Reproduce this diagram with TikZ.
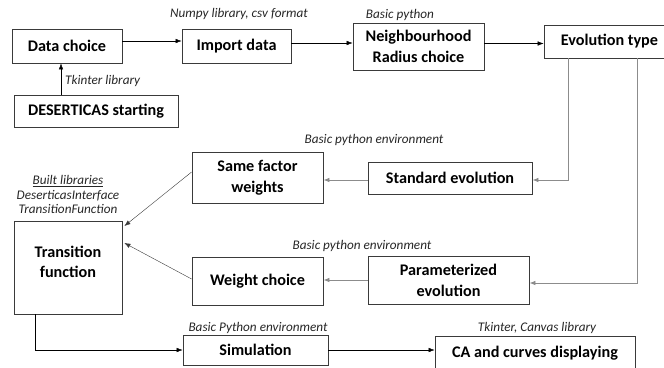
\documentclass[tikz,border=0pt]{standalone}
\usepackage{fontspec}
\setmainfont{Carlito}
\usetikzlibrary{arrows.meta}
\definecolor{frame}{HTML}{3A3A3A}
\definecolor{wire}{HTML}{8C8C8C}
\definecolor{note}{HTML}{262626}

\begin{document}
\begin{tikzpicture}[x=1pt,y=-1pt,>={Latex[length=6pt,width=4.5pt]},
  box/.style={draw=frame,line width=0.8pt,align=center,inner sep=0pt,font=\fontsize{16.2}{21}\selectfont\bfseries},
  lib/.style={text=note,inner sep=0pt,align=center,font=\fontsize{13.2}{14.8}\selectfont\itshape}]
  \useasboundingbox (0,0) rectangle (664,367);
  \clip (0,0) rectangle (664,367);
  % top row: getting the data in
  \node[box,minimum width=110pt,minimum height=34pt] (datachoice) at (67,46) {Data choice};
  \node[box,minimum width=109pt,minimum height=34pt] (importdata) at (236.5,46) {Import data};
  \node[box,minimum width=131pt,minimum height=47pt] (neighbourhood) at (418.5,46.5) {Neighbourhood\\Radius choice};
  \node[box,minimum width=131pt,minimum height=33pt] (evotype) at (609.5,41.5) {Evolution type};
  \node[box,minimum width=164pt,minimum height=32pt] (deserticas) at (96,111) {DESERTICAS starting};
  \node[lib] (numpy) at (239,14) {Numpy library, csv format};
  \node[lib] (basicpy) at (400,15) {Basic python};
  \node[lib,anchor=west] (tkinter) at (65,81) {Tkinter library};
  \draw[->] ([yshift=5pt]datachoice.east) -- ([yshift=5pt]importdata.west);
  \draw[->] ([yshift=3pt]importdata.east) -- ([yshift=3pt]importdata.east -| neighbourhood.west);
  \draw[->] ([yshift=3pt]neighbourhood.east) -- ([yshift=3pt]neighbourhood.east -| evotype.west);
  \draw[->] ([xshift=-35pt]deserticas.north) -- ([xshift=-6pt]datachoice.south);
  % middle: the two evolution branches
  \node[box,minimum width=164pt,minimum height=32pt] (standard) at (450,178) {Standard evolution};
  \node[box,minimum width=131pt,minimum height=51pt] (samefactor) at (257.5,177.5) {Same factor\\weights};
  \node[box,minimum width=161pt,minimum height=48pt] (parameterized) at (448.5,280) {Parameterized\\evolution};
  \node[box,minimum width=131pt,minimum height=48pt] (weight) at (257.5,281) {Weight choice};
  \node[box,minimum width=108pt,minimum height=93pt,
    label={[align=center,font=\fontsize{16.2}{20}\selectfont\bfseries,yshift=5.5pt]center:Transition\\function}] (transition) at (68,267.5) {};
  \node[lib] (env1) at (374,140) {Basic python environment};
  \node[lib] (env2) at (362,246) {Basic python environment};
  \node[lib] (built) at (68,194.5) {\underline{Built libraries}\\DeserticasInterface\\TransitionFunction};
  \draw[wire,line width=0.8pt,->] ([xshift=-41.5pt]evotype.south) |- ([yshift=-2pt]standard.east);
  \draw[wire,line width=0.8pt,->] ([xshift=27.5pt]evotype.south) |- ([yshift=-3pt]parameterized.east);
  \draw[wire,line width=0.8pt,->] ([yshift=-2pt]standard.west) -- ([yshift=-2pt]standard.west -| samefactor.east);
  \draw[wire,line width=0.8pt,->] (parameterized.west) -- (parameterized.west -| weight.east);
  \draw[frame,->] ([yshift=5.5pt]samefactor.west) -- ([xshift=2pt,yshift=41.5pt]transition.east);
  \draw[frame,->] ([yshift=2pt]weight.west) -- ([xshift=2pt,yshift=24.5pt]transition.east);
  % bottom row: running and showing
  \node[box,minimum width=145pt,minimum height=30pt] (simulation) at (255.5,350) {Simulation};
  \node[box,minimum width=200pt,minimum height=34pt] (ca) at (535,353) {CA and curves displaying};
  \node[lib] (env3) at (258,328) {Basic Python environment};
  \node[lib] (canvas) at (537,328) {Tkinter, Canvas library};
  \draw[->] ([xshift=-33pt]transition.south) |- (simulation.west);
  \draw[->] (simulation.east) -- (simulation.east -| ca.west);
\end{tikzpicture}
\end{document}
